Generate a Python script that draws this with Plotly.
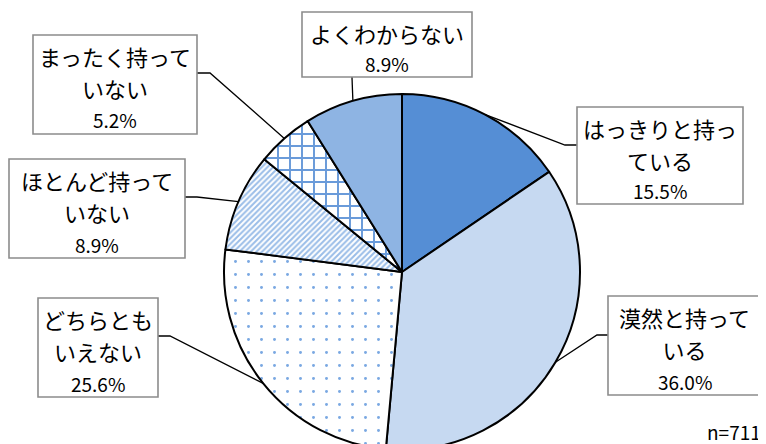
import math
import plotly.graph_objects as go

# ---- data ----
labels = ["はっきりと持っている", "漠然と持っている", "どちらともいえない",
          "ほとんど持っていない", "まったく持っていない", "よくわからない"]
box_lines = ["はっきりと持っ<br>ている", "漠然と持って<br>いる", "どちらとも<br>いえない",
             "ほとんど持って<br>いない", "まったく持って<br>いない", "よくわからない"]
values = [15.5, 36.0, 25.6, 8.9, 5.2, 8.9]
pct_labels = ["15.5%", "36.0%", "25.6%", "8.9%", "5.2%", "8.9%"]
n_label = "n=711"

# ---- styles ----
fill_colors = ["#558ED5", "#C6D9F1", "#FFFFFF", "#FFFFFF", "#FFFFFF", "#8EB4E3"]
pat_shapes = ["", "", ".", "/", "+", ""]
pat_fg = ["#558ED5", "#C6D9F1", "#7AA8E2", "#9ABDE8", "#6A9BDA", "#8EB4E3"]
pat_size = [8, 8, 13, 4, 12, 8]
pat_solid = [0.3, 0.3, 0.04, 0.5, 0.3, 0.3]
FONT = "Noto Sans CJK JP"

# page body adds an 8px offset; work in window pixels and convert
OFF = 8
FW, FH = 758, 452
CX, CY, R = 402, 272, 178


def px(x):
    return (x - OFF) / FW


def py(y):
    return 1 - (y - OFF) / FH


fig = go.Figure()
fig.add_trace(go.Pie(
    labels=labels, values=values, sort=False, direction="clockwise", rotation=0,
    textinfo="none", hoverinfo="label+percent", showlegend=False,
    marker=dict(colors=fill_colors, line=dict(color="#000000", width=2),
                pattern=dict(shape=pat_shapes, fgcolor=pat_fg, bgcolor="#FFFFFF",
                             size=pat_size, solidity=pat_solid, fillmode="replace")),
    domain=dict(x=[px(CX - R), px(CX + R)], y=[py(CY + R), py(CY - R)]),
))

# label box layout (window pixels): x0, y0, x1, y1, leader start, elbow
boxes = [
    (577, 107, 743, 204, (577, 145), (565, 145)),
    (608, 296, 761, 395, (608, 335), (597, 335)),
    (38, 298, 158, 397, (158, 336), (170, 336)),
    (9, 159, 185, 258, (185, 197), (197, 197)),
    (33, 35, 197, 134, (197, 73), (210, 73)),
    (302, 12, 472, 77, (352, 77), None),
]

total = sum(values)
cum = 0.0
annotations = []
lines = []
rects = []
for i, v in enumerate(values):
    mid = (cum + v / 2) / total * 2 * math.pi
    cum += v
    ex = CX + R * math.sin(mid)
    ey = CY - R * math.cos(mid)
    x0, y0, x1, y1, start, elbow = boxes[i]
    pts = [start] + ([elbow] if elbow else []) + [(ex, ey)]
    path = "M" + " L".join("%.4f,%.4f" % (px(a), py(b)) for a, b in pts)
    lines.append(dict(type="path", path=path, xref="paper", yref="paper",
                      line=dict(color="#000000", width=1.3), layer="above"))
    rects.append(dict(type="rect", xref="paper", yref="paper",
                      x0=px(x0), x1=px(x1), y0=py(y1), y1=py(y0),
                      line=dict(color="#8C8C8C", width=1.6), fillcolor="#FFFFFF", layer="above"))
    nlines = box_lines[i].count("<br>") + 1
    ty = y0 + 21 + 32 * (nlines - 1) / 2
    annotations.append(dict(
        x=px((x0 + x1) / 2), y=py(ty), xref="paper", yref="paper",
        xanchor="center", yanchor="middle", align="center", showarrow=False,
        text="<span style=\"font-size:22px\">" + box_lines[i].replace("<br>", "</span><br><span style=\"font-size:22px\">") + "</span>",
        font=dict(family=FONT, size=24.6, color="#000000"),
    ))
    annotations.append(dict(
        x=px((x0 + x1) / 2), y=py(y1 - 14), xref="paper", yref="paper",
        xanchor="center", yanchor="middle", showarrow=False,
        text=pct_labels[i], font=dict(family=FONT, size=19, color="#000000"),
    ))

annotations.append(dict(
    x=px(763), y=py(431), xref="paper", yref="paper", xanchor="right", yanchor="middle",
    text=n_label, showarrow=False,
    font=dict(family=FONT, size=19, color="#000000"),
))

fig.update_layout(
    width=FW, height=FH, margin=dict(l=0, r=0, t=0, b=0),
    paper_bgcolor="#FFFFFF", plot_bgcolor="#FFFFFF",
    annotations=annotations, shapes=lines + rects,
)

fig.write_html("out.html")
